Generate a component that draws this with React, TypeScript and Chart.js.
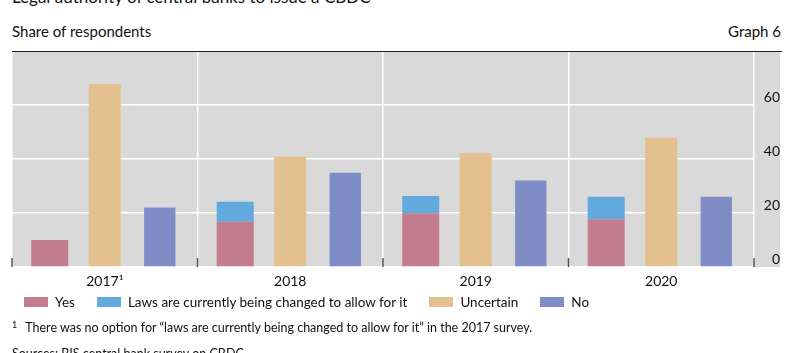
import React, { useEffect, useRef } from "react";
import { Chart, registerables } from "chart.js";

Chart.register(...registerables);

const categories = ["2017¹", "2018", "2019", "2020"];
const yesValues = [10, 16.8, 19.9, 17.7];
const lawsValues = [null, 7.4, 6.4, 8.3];
const uncertainValues = [67.8, 40.9, 42.1, 47.9];
const noValues = [22, 34.9, 32, 26];
const yTickValues = [0, 20, 40, 60];
const yMax = 80;
const seriesNames = ["Yes", "Laws are currently being changed to allow for it", "Uncertain", "No"];
const seriesColors = ["#c47d8e", "#62aade", "#e3c18f", "#808cc6"];

const FONT = "Lato, 'Open Sans', sans-serif";

const backgroundPlugin = {
  id: "bgPlugin",
  beforeDraw(chart: any) {
    const { ctx, chartArea } = chart;
    const yScale = chart.scales.y;
    ctx.save();
    ctx.fillStyle = "#d9d9d9";
    ctx.fillRect(chartArea.left, chartArea.top, yScale.right - chartArea.left, chartArea.bottom - chartArea.top);
    ctx.restore();
  },
  afterDraw(chart: any) {
    const { ctx, chartArea } = chart;
    const xScale = chart.scales.x;
    const yScale = chart.scales.y;
    ctx.save();
    ctx.strokeStyle = "#222";
    ctx.lineWidth = 1.2;
    ctx.beginPath();
    ctx.moveTo(chartArea.left, chartArea.top + 0.5);
    ctx.lineTo(yScale.right + 2, chartArea.top + 0.5);
    ctx.stroke();
    const n = categories.length;
    const w = xScale.width / n;
    ctx.strokeStyle = "#555";
    ctx.lineWidth = 1.5;
    for (let i = 0; i <= n; i++) {
      const x = xScale.left + i * w;
      ctx.beginPath();
      ctx.moveTo(x, chartArea.bottom - 9);
      ctx.lineTo(x, chartArea.bottom);
      ctx.stroke();
    }
    ctx.restore();
  },
};

export default function App() {
  const canvasRef = useRef<HTMLCanvasElement | null>(null);

  useEffect(() => {
    const canvas = canvasRef.current;
    if (!canvas) return;
    const catPct = 0.89;
    const chart = new Chart(canvas, {
      type: "bar",
      data: {
        labels: categories,
        datasets: [
          { label: seriesNames[0], data: yesValues, backgroundColor: seriesColors[0], stack: "a", barPercentage: 0.673, categoryPercentage: catPct },
          { label: seriesNames[1], data: lawsValues as any, backgroundColor: seriesColors[1], stack: "a", barPercentage: 0.673, categoryPercentage: catPct },
          { label: seriesNames[2], data: uncertainValues, backgroundColor: seriesColors[2], stack: "b", barPercentage: 0.582, categoryPercentage: catPct },
          { label: seriesNames[3], data: noValues, backgroundColor: seriesColors[3], stack: "c", barPercentage: 0.57, categoryPercentage: catPct },
        ],
      },
      options: {
        animation: false,
        responsive: false,
        devicePixelRatio: 1,
        layout: { padding: { left: 12, top: 51, right: 12, bottom: 0 } },
        plugins: { legend: { display: false }, tooltip: { enabled: false } },
        scales: {
          x: {
            stacked: true,
            grid: { color: "#ffffff", lineWidth: 1.5, drawTicks: false, offset: true },
            border: { display: false },
            ticks: { color: "#111", font: { family: FONT, size: 14 }, padding: 6, maxRotation: 0 },
            afterFit: (axis: any) => { axis.height = 33; },
          },
          y: {
            stacked: true,
            position: "right",
            min: 0,
            max: yMax,
            afterBuildTicks: (axis: any) => { axis.ticks = yTickValues.map((v) => ({ value: v })); },
            grid: { color: "#ffffff", lineWidth: 1.5, drawTicks: false },
            border: { display: false },
            ticks: { color: "#111", font: { family: FONT, size: 14 }, crossAlign: "far", labelOffset: -8, padding: 0 },
            afterFit: (axis: any) => { axis.width = 26; },
          },
        },
      },
      plugins: [backgroundPlugin],
    } as any);
    return () => chart.destroy();
  }, []);

  const textBase: React.CSSProperties = { position: "absolute", fontFamily: FONT, color: "#111", whiteSpace: "nowrap" };

  return (
    <div style={{ position: "fixed", left: 0, top: 0, width: 792, height: 353, overflow: "hidden", background: "#fff" }}>
      <div style={{ ...textBase, left: 12, top: -13, fontSize: 17, lineHeight: "20px" }}>
        Legal authority of central banks to issue a CBDC
      </div>
      <div style={{ ...textBase, left: 12, top: 22, fontSize: 15, lineHeight: "18px" }}>Share of respondents</div>
      <div style={{ ...textBase, right: 11, top: 22, fontSize: 15, lineHeight: "18px" }}>Graph 6</div>
      <canvas ref={canvasRef} width={792} height={300} style={{ position: "absolute", left: 0, top: 0, width: 792, height: 300 }} />
      <div style={{ ...textBase, left: 24, top: 293, display: "flex", alignItems: "center", fontSize: 13.5, lineHeight: "18px" }}>
        {seriesNames.map((name, i) => (
          <div key={name} style={{ display: "flex", alignItems: "center", marginRight: 22 }}>
            <span style={{ display: "inline-block", width: 24, height: 10, background: seriesColors[i], marginRight: 7 }} />
            <span>{name}</span>
          </div>
        ))}
      </div>
      <div style={{ ...textBase, left: 12, top: 320, fontSize: 12.5, lineHeight: "16px" }}>
        <span style={{ fontSize: 9, position: "relative", top: -4, marginRight: 8 }}>1</span>
        There was no option for “laws are currently being changed to allow for it” in the 2017 survey.
      </div>
      <div style={{ ...textBase, left: 12, top: 346, fontSize: 12.5, lineHeight: "16px" }}>
        Sources: BIS central bank survey on CBDC.
      </div>
    </div>
  );
}
